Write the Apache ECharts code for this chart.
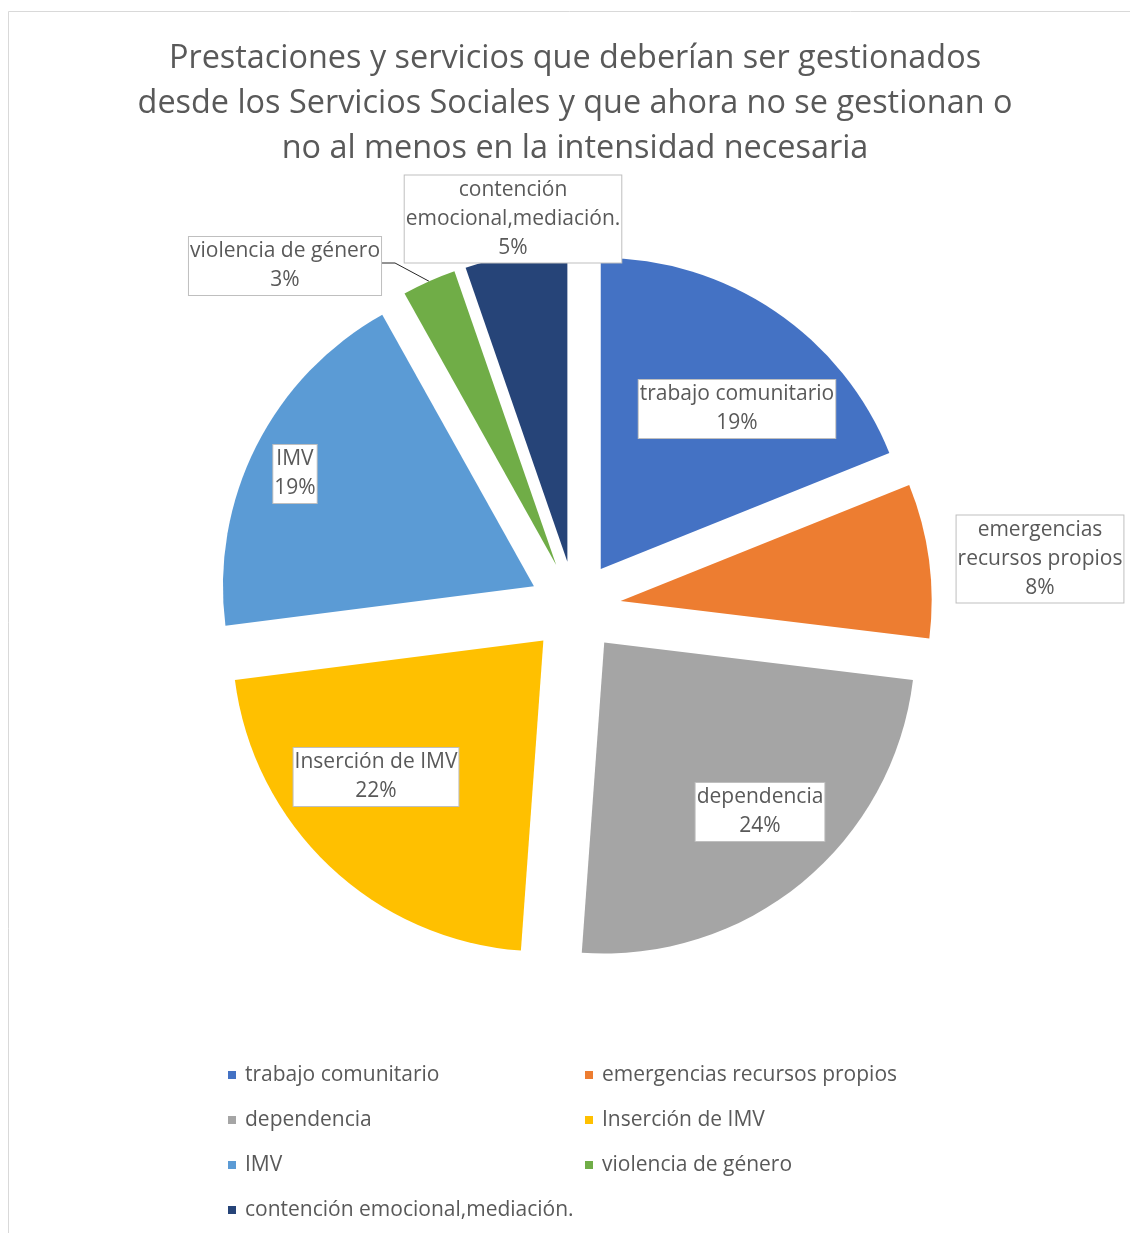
<!DOCTYPE html>
<html>
<head>
<meta charset="utf-8">
<script src="https://cdn.jsdelivr.net/npm/echarts@6/dist/echarts.min.js"></script>
<style>
  html, body { margin: 0; padding: 0; background: #fff; }
  #chart { width: 1130px; height: 1233px; }
</style>
</head>
<body>
<div id="chart"></div>
<script>
// datos (porcentajes)
const categories = [
  'trabajo comunitario',
  'emergencias recursos propios',
  'dependencia',
  'Inserción de IMV',
  'IMV',
  'violencia de género',
  'contención emocional,mediación.'
]
const legendNames = categories.slice()
// texto de las etiquetas, con el salto de línea de Excel
const labelNames = [
  'trabajo comunitario',
  'emergencias\nrecursos propios',
  'dependencia',
  'Inserción de IMV',
  'IMV',
  'violencia de género',
  'contención\nemocional,mediación.'
]
const values = [18.9, 8.0, 24.2, 21.8, 18.9, 2.8, 5.3]
const colors = ['#4472C4', '#ED7D31', '#A5A5A5', '#FFC000', '#5B9BD5', '#70AD47', '#264478']

const titleText = 'Prestaciones y servicios que deberían ser gestionados\ndesde los Servicios Sociales y que ahora no se gestionan o\nno al menos en la intensidad necesaria'

// layout
const font = '"Open Sans", sans-serif'
const textColor = '#595959'
const pieCenter = [575, 607]
const pieRadius = 311
const explode = 46
// label anchor, relative to pie center
const labelShift = [[162, -198], [465, -48], [185, 205], [-199, 170], [-280, -133], [-290, -341], [-62, -388]]
const labelLine = [false, false, false, false, false, true, false]

// mid angle of every slice (deg, clockwise from 12 o'clock)
const total = values.reduce((a, b) => a + b, 0)
const midAngle = []
let acc = 0
values.forEach(v => {
  midAngle.push((acc + v / 2) / total * 360)
  acc += v
})

const chart = echarts.init(document.getElementById('chart'), null, { renderer: 'canvas' })

const option = {
  animation: false,
  backgroundColor: '#fff',
  title: {
    text: titleText,
    left: 570,
    top: 31,
    textAlign: 'center',
    textStyle: {
      fontFamily: font,
      fontSize: 32.4,
      fontWeight: 'normal',
      color: textColor,
      lineHeight: 45
    }
  },
  graphic: [{
    type: 'rect',
    silent: true,
    shape: { x: 8.5, y: 11.5, width: 1140, height: 1240 },
    style: { fill: 'none', stroke: '#d9d9d9', lineWidth: 1 }
  }],
  legend: {
    data: legendNames,
    left: 228,
    top: 1052.5,
    width: 730,
    padding: 0,
    itemGap: 0,
    itemWidth: 8,
    itemHeight: 8,
    icon: 'rect',
    textStyle: {
      fontFamily: font,
      fontSize: 21,
      color: textColor,
      width: 340,
      lineHeight: 45,
      padding: [0, 0, 0, 4]
    }
  },
  series: [{
    // exploded slices
    type: 'pie',
    center: pieCenter,
    radius: pieRadius,
    startAngle: 90,
    selectedMode: 'multiple',
    selectedOffset: explode,
    emphasis: { disabled: true },
    itemStyle: { borderWidth: 0 },
    label: { show: false },
    labelLine: { show: false },
    data: categories.map((name, i) => ({
      name: name,
      value: values[i],
      selected: true,
      itemStyle: { color: colors[i] }
    }))
  }, {
    // data labels (transparent copy so labelLayout is not overridden by select state)
    type: 'pie',
    center: pieCenter,
    radius: pieRadius + explode,
    startAngle: 90,
    silent: true,
    selectedMode: false,
    avoidLabelOverlap: false,
    emphasis: { disabled: true },
    itemStyle: { color: 'rgba(0,0,0,0)', borderWidth: 0 },
    label: {
      formatter: p => labelNames[p.dataIndex] + '\n' + Math.round(p.percent) + '%',
      fontFamily: font,
      fontSize: 21,
      color: textColor,
      lineHeight: 29,
      align: 'center',
      backgroundColor: '#fff',
      borderColor: '#bfbfbf',
      borderWidth: 1,
      padding: [0, 1]
    },
    labelLine: {
      lineStyle: { color: '#262626', width: 1 }
    },
    labelLayout: p => {
      const i = p.dataIndex
      const x = pieCenter[0] + labelShift[i][0]
      const y = pieCenter[1] + labelShift[i][1]
      const out = { x: x, y: y, align: 'center', verticalAlign: 'middle' }
      if (labelLine[i]) {
        const a = midAngle[i] * Math.PI / 180
        const r = pieRadius + explode
        const ex = pieCenter[0] + r * Math.sin(a)
        const ey = pieCenter[1] - r * Math.cos(a)
        const sx = x + p.labelRect.width / 2
        const sy = y - 3
        out.labelLinePoints = [[sx, sy], [sx + 13, sy], [ex, ey]]
      }
      return out
    },
    data: categories.map((name, i) => ({
      name: name,
      value: values[i],
      label: { position: labelLine[i] ? 'outside' : 'inside' },
      labelLine: { show: labelLine[i] }
    }))
  }]
}

chart.setOption(option)
</script>
</body>
</html>
